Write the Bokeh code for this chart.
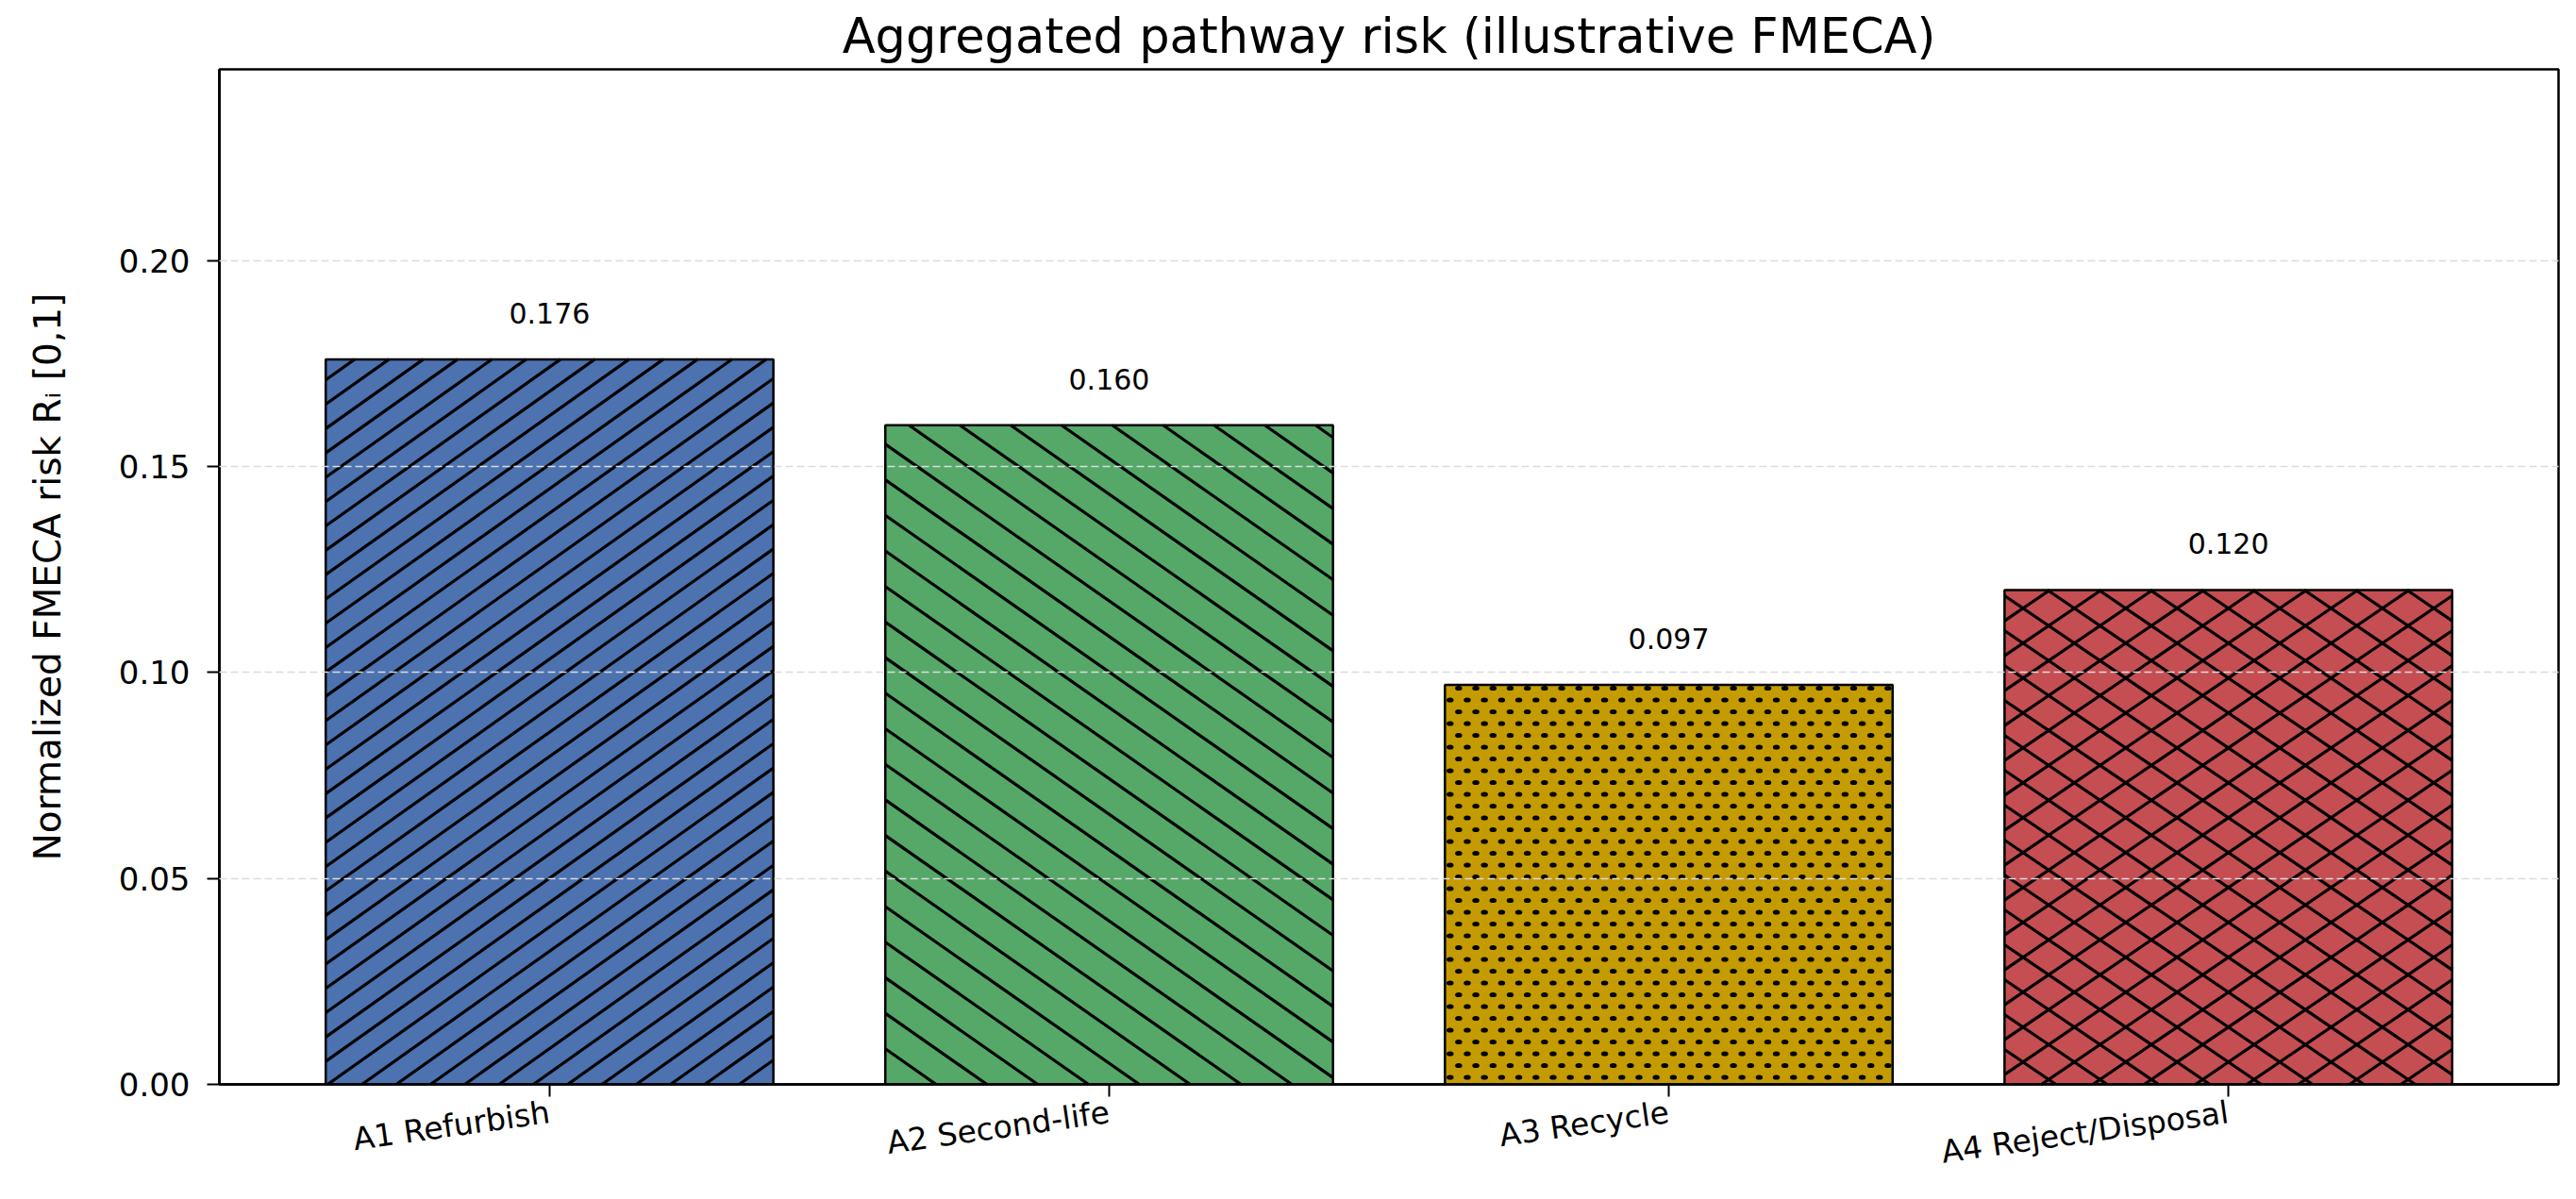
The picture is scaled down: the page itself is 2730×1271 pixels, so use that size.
from bokeh.plotting import figure
from bokeh.models import ColumnDataSource, Range1d, FixedTicker, NumeralTickFormatter
from bokeh.core.properties import value
from bokeh.embed import file_html
from bokeh.resources import INLINE

# ---- data ----
categories = ["A1 Refurbish", "A2 Second-life", "A3 Recycle", "A4 Reject/Disposal"]
risk_values = [0.176, 0.160, 0.097, 0.120]
bar_colors = ["#4c72b0", "#55a868", "#c49b00", "#c44e52"]
hatch_kinds = ["/", "\\", ".", "x"]
y_ticks = [0.00, 0.05, 0.10, 0.15, 0.20]
title_text = "Aggregated pathway risk (illustrative FMECA)"
y_label = "Normalized FMECA risk R\u1d62 [0,1]"

positions = list(range(len(categories)))
labels = [f"{v:.3f}" for v in risk_values]

# ---- layout ----
FIG_W, FIG_H = 2714, 1263
B_LEFT, B_RIGHT, B_TOP, B_BOTTOM = 232, 3, 73, 114
BAR_W = 0.8
X_LO = -BAR_W / 2 - 0.19
X_HI = len(categories) - 1 + BAR_W / 2 + 0.19
y_max = max(risk_values) * 1.4
frame_w = FIG_W - B_LEFT - B_RIGHT
frame_h = FIG_H - B_TOP - B_BOTTOM
px_x = frame_w / (X_HI - X_LO)
px_y = frame_h / y_max

# ---- hatch geometry (screen-pixel spacing, converted through the scales) ----
HATCH = {"/": dict(m=0.71, d=25.8), "\\": dict(m=0.70, d=37.7), "x": dict(m=0.68, d=37.0)}
DOT_HX, DOT_HY = 18.2, 12.5


def line_family(x0, w, h, m, d, sign, phase=0.0):
    segs = []
    if sign > 0:
        c = -m * w + phase
        c_end = h
    else:
        c = phase
        c_end = h + m * w
    while c <= c_end:
        if sign > 0:
            xa, xb = (0 - c) / m, (h - c) / m
        else:
            xa, xb = (c - h) / m, c / m
        xa, xb = max(xa, 0.0), min(xb, w)
        if xb - xa > 0.5:
            ya, yb = sign * m * xa + c, sign * m * xb + c
            segs.append((x0 + xa / px_x, ya / px_y, x0 + xb / px_x, yb / px_y))
        c += d
    return segs


seg_x0, seg_y0, seg_x1, seg_y1 = [], [], [], []
dot_x, dot_y = [], []
for pos, val, kind in zip(positions, risk_values, hatch_kinds):
    x0 = pos - BAR_W / 2
    w = BAR_W * px_x
    h = val * px_y
    segs = []
    if kind == "/":
        segs = line_family(x0, w, h, HATCH["/"]["m"], HATCH["/"]["d"], +1)
    elif kind == "\\":
        segs = line_family(x0, w, h, HATCH["\\"]["m"], HATCH["\\"]["d"], -1)
    elif kind == "x":
        segs = (line_family(x0, w, h, HATCH["x"]["m"], HATCH["x"]["d"], +1)
                + line_family(x0, w, h, HATCH["x"]["m"], HATCH["x"]["d"], -1))
    elif kind == ".":
        r = 0
        yy = DOT_HY * 0.6
        while yy < h - 3:
            xx = DOT_HX * (0.3 + 0.5 * (r % 2))
            while xx < w - 3:
                dot_x.append(x0 + xx / px_x)
                dot_y.append(yy / px_y)
                xx += DOT_HX
            yy += DOT_HY
            r += 1
    for s in segs:
        seg_x0.append(s[0]); seg_y0.append(s[1]); seg_x1.append(s[2]); seg_y1.append(s[3])

src = ColumnDataSource(dict(x=positions, val=risk_values, color=bar_colors, label=labels))

FONT = "DejaVu Sans"

p = figure(width=FIG_W, height=FIG_H, output_backend="svg", toolbar_location=None,
           x_range=Range1d(X_LO, X_HI), y_range=Range1d(0, y_max),
           min_border_left=B_LEFT, min_border_right=B_RIGHT,
           min_border_top=B_TOP, min_border_bottom=B_BOTTOM)

# bars: fill, hatch, outline
p.vbar(x="x", top="val", width=BAR_W, source=src, fill_color="color", line_color=None)
p.segment(x0=seg_x0, y0=seg_y0, x1=seg_x1, y1=seg_y1, line_color="black", line_width=3.2)
p.ellipse(x=dot_x, y=dot_y, width=7.5, height=5.2, width_units="screen",
          height_units="screen", fill_color="black", line_color=None)
p.vbar(x="x", top="val", width=BAR_W, source=src, fill_color=None,
       line_color="black", line_width=2.5)

p.text(x="x", y="val", text="label", source=src, text_align="center",
       text_baseline="alphabetic", y_offset=-49, text_font=value(FONT),
       text_font_size="30px", text_color="black")

# title
p.title.text = title_text
p.title.align = "center"
p.title.text_font = FONT
p.title.text_font_size = "51px"
p.title.text_font_style = "normal"
p.title.text_color = "black"
p.title.standoff = 12

# frame
p.outline_line_color = "black"
p.outline_line_width = 2.5
p.outline_line_alpha = 1.0
p.background_fill_color = "white"
p.border_fill_color = "white"

# grid
p.xgrid.grid_line_color = None
p.ygrid.grid_line_color = "#dcdcdc"
p.ygrid.grid_line_dash = "8 4"
p.ygrid.grid_line_width = 1.5
p.ygrid.level = "overlay"
p.ygrid.ticker = FixedTicker(ticks=y_ticks[1:])

# y axis
p.yaxis.ticker = FixedTicker(ticks=y_ticks)
p.yaxis.formatter = NumeralTickFormatter(format="0.00")
p.yaxis.axis_label = y_label
p.yaxis.axis_label_text_font = FONT
p.yaxis.axis_label_text_font_size = "39px"
p.yaxis.axis_label_text_font_style = "normal"
p.yaxis.axis_label_standoff = 50
p.yaxis.major_label_text_font = FONT
p.yaxis.major_label_text_font_size = "34px"
p.yaxis.major_label_standoff = 18
p.yaxis.minor_tick_line_color = None

# x axis
p.xaxis.ticker = FixedTicker(ticks=positions)
p.xaxis.major_label_overrides = {pos: name for pos, name in zip(positions, categories)}
p.xaxis.major_label_orientation = 0.14
p.xaxis.major_label_text_font = FONT
p.xaxis.major_label_text_font_size = "33px"
p.xaxis.major_label_standoff = 16
p.xaxis.minor_tick_line_color = None

for ax in (p.xaxis[0], p.yaxis[0]):
    ax.axis_line_color = "black"
    ax.axis_line_width = 2.5
    ax.major_tick_line_color = "black"
    ax.major_tick_line_width = 2
    ax.major_tick_out = 13
    ax.major_tick_in = 0
    ax.major_label_text_color = "black"
    ax.axis_label_text_color = "black"

open("out.html", "w").write(file_html(p, INLINE))
